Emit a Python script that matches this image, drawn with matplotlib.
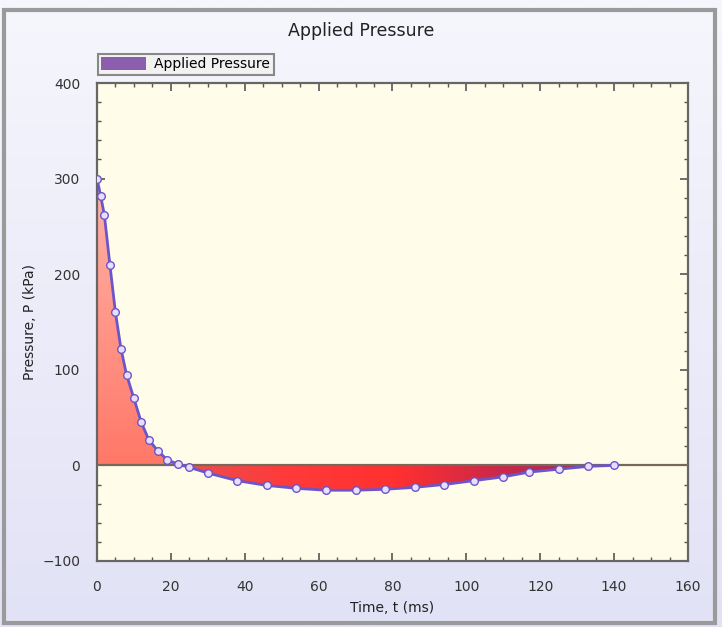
import numpy as np
import matplotlib
matplotlib.use("Agg")
import matplotlib.pyplot as plt
from matplotlib.patches import Rectangle, Patch
from matplotlib.colors import LinearSegmentedColormap

# pressure pulse
t = [0, 1, 2, 3.5, 5, 6.5, 8, 10, 12, 14, 16.5, 19, 22, 25,
     30, 38, 46, 54, 62, 70, 78, 86, 94, 102, 110, 117, 125, 133, 140]
p = [300, 282, 262, 210, 160, 122, 95, 70, 45, 27, 15, 6, 1, -2,
     -8, -16, -21, -24, -26, -26, -25, -23, -20, -16, -12, -7, -4, -1, 0]

title = "Applied Pressure"
xlab = "Time, t (ms)"
ylab = "Pressure, P (kPa)"
leg_label = "Applied Pressure"

t = np.array(t)
p = np.array(p)

fig = plt.figure(figsize=(7.22, 6.27), dpi=100)
fig.patch.set_facecolor("white")

# light lavender gradient behind everything, with a grey frame
bg = fig.add_axes([0, 0, 1, 1], zorder=-10)
grad = np.linspace(0, 1, 256)[:, None]
bg.imshow(grad, extent=[0, 1, 0, 1], aspect="auto",
          cmap=LinearSegmentedColormap.from_list("bgc", ["#f6f6fd", "#e2e2f6"]),
          origin="upper")
bg.add_patch(Rectangle((0.006, 0.006), 0.984, 0.978, fill=False,
                       edgecolor="#9a9a9a", lw=3))
bg.set_xlim(0, 1)
bg.set_ylim(0, 1)
bg.axis("off")

ax = fig.add_axes([0.1343, 0.1053, 0.8186, 0.7623])
ax.set_facecolor("#fffde9")
ax.set_xlim(0, 160)
ax.set_ylim(-100, 400)

# shaded areas, gradient filled and clipped to the area under the curve
pos = ax.fill_between(t, p, 0, where=p >= 0, interpolate=True,
                      color="none", lw=0)
neg = ax.fill_between(t, p, 0, where=p <= 0, interpolate=True,
                      color="none", lw=0)
cm_pos = LinearSegmentedColormap.from_list("pos", ["#ff7868", "#ffb4aa"])
im1 = ax.imshow(np.linspace(0, 1, 256)[:, None], cmap=cm_pos, origin="lower",
                extent=[0, 30, 0, 300], aspect="auto", zorder=2)
im1.set_clip_path(pos.get_paths()[0], transform=ax.transData)
cm_neg = LinearSegmentedColormap.from_list(
    "neg", ["#e85050", "#ff3a3a", "#ff3030", "#c8284a", "#9c2a5a"])
im2 = ax.imshow(np.linspace(0, 1, 256)[None, :], cmap=cm_neg, origin="lower",
                extent=[22, 140, -30, 0], aspect="auto", zorder=2)
im2.set_clip_path(neg.get_paths()[0], transform=ax.transData)

ax.axhline(0, color="#76685a", lw=1.6, zorder=3)
ax.plot(t, p, color="#6c55c8", lw=2, marker="o", ms=5.5,
        mfc="#e8deff", mec="#6c55c8", mew=1, zorder=4)

ax.set_xlim(0, 160)
ax.set_ylim(-100, 400)
ax.set_xticks(np.arange(0, 161, 20))
ax.set_yticks(np.arange(-100, 401, 100))
ax.set_xticks(np.arange(0, 161, 5), minor=True)
ax.set_yticks(np.arange(-100, 401, 20), minor=True)
ax.tick_params(which="both", direction="in", top=True, right=True,
               color="#555555", labelsize=10, labelcolor="#333333")
ax.tick_params(axis="y", which="major", pad=12)
ax.tick_params(axis="x", which="major", pad=14)
ax.tick_params(which="major", length=6, width=1.2)
ax.tick_params(which="minor", length=3, width=1)
for s in ax.spines.values():
    s.set_color("#666666")
    s.set_linewidth(1.6)

ax.set_xlabel(xlab, fontsize=10, color="#222222", labelpad=5)
ax.set_ylabel(ylab, fontsize=10, color="#222222", labelpad=4)
fig.text(0.5, 0.951, title, ha="center", va="center", fontsize=12.5,
         color="#222222")

h = Patch(facecolor="#8c5fae", edgecolor="none")
leg = fig.legend([h], [leg_label], loc="lower left",
                 bbox_to_anchor=(0.126, 0.870), fontsize=10,
                 handlelength=3.2, handleheight=1.0, borderpad=0.25,
                 handletextpad=0.6, fancybox=False, framealpha=1)
leg.get_frame().set_edgecolor("#888888")
leg.get_frame().set_facecolor("#f2f2f2")
leg.get_frame().set_linewidth(1.5)

fig.savefig("out.png", dpi=100, facecolor=fig.get_facecolor())
